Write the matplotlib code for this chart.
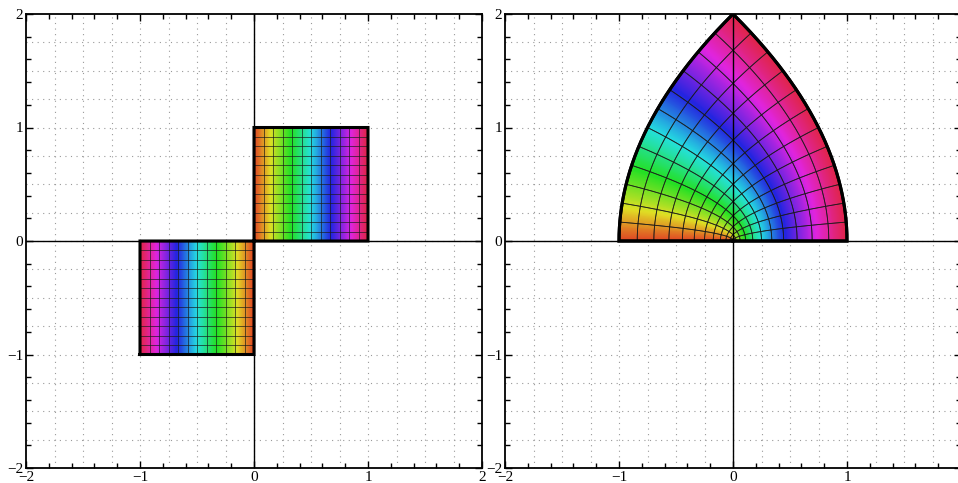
import numpy as np
import matplotlib
matplotlib.use('Agg')
import matplotlib.pyplot as plt
from matplotlib.colors import hsv_to_rgb, ListedColormap
from matplotlib.ticker import MultipleLocator

# ---------------- дані ----------------
# квадрати в площині z: (x0, x1, y0, y1)
squares = [(0.0, 1.0, 0.0, 1.0), (-1.0, 0.0, -1.0, 0.0)]
mesh_count = 12             # кількість клітинок сітки по кожній стороні
hue_range = (0.03, 0.97)    # відтінок для |x| = 0 ... 1
sat, val = 0.84, 0.88
major_ticks = [-2, -1, 0, 1, 2]
axis_range = (-2, 2)


def mapping(z):
    # w = z^2
    return z ** 2


hues = np.linspace(hue_range[0], hue_range[1], 256)
hsv = np.stack([hues, np.full_like(hues, sat), np.full_like(hues, val)], axis=-1)
cmap = ListedColormap(hsv_to_rgb(hsv))

plt.rcParams['font.family'] = ['Liberation Serif', 'DejaVu Serif']

fig = plt.figure(figsize=(9.58, 4.83), dpi=100)
W, H = 958.0, 483.0
ax_l = fig.add_axes([26 / W, 15 / H, 456 / W, 454 / H])
ax_r = fig.add_axes([505 / W, 15 / H, 456 / W, 454 / H])


def setup_axes(ax):
    ax.set_xlim(*axis_range)
    ax.set_ylim(*axis_range)
    ax.set_xticks(major_ticks)
    ax.set_yticks(major_ticks)
    ax.set_xticklabels([str(t).replace('-', '\u2212') for t in major_ticks])
    ax.set_yticklabels([str(t).replace('-', '\u2212') for t in major_ticks])
    ax.xaxis.set_minor_locator(MultipleLocator(0.2))
    ax.yaxis.set_minor_locator(MultipleLocator(0.2))
    ax.tick_params(which='both', direction='in', top=True, right=True,
                   labelsize=11, pad=2, width=1.0, color='black')
    ax.tick_params(which='major', length=5)
    ax.tick_params(which='minor', length=3.5)
    # пунктирна сітка з кроком 0.25
    g = np.arange(axis_range[0] + 0.25, axis_range[1], 0.25)
    for v in g:
        ax.axvline(v, color='#9a9a9a', lw=0.8, ls=(0, (1, 4)), zorder=0)
        ax.axhline(v, color='#9a9a9a', lw=0.8, ls=(0, (1, 4)), zorder=0)
    ax.axhline(0, color='black', lw=1.0, zorder=4)
    ax.axvline(0, color='black', lw=1.0, zorder=4)
    for s in ax.spines.values():
        s.set_linewidth(1.3)


def draw_square(ax, sq, func):
    x0, x1, y0, y1 = sq
    xs = np.linspace(x0, x1, 241)
    ys = np.linspace(y0, y1, 241)
    X, Y = np.meshgrid(xs, ys)
    Wz = func(X + 1j * Y)
    ax.pcolormesh(Wz.real, Wz.imag, np.abs(X), cmap=cmap, vmin=0, vmax=1,
                  shading='gouraud', zorder=2, rasterized=True)
    s = np.linspace(0, 1, 300)
    # лінії сітки
    for t in np.linspace(0, 1, mesh_count + 1)[1:-1]:
        xv = x0 + t * (x1 - x0)
        yv = y0 + t * (y1 - y0)
        w1 = func(xv + 1j * (y0 + s * (y1 - y0)))
        w2 = func((x0 + s * (x1 - x0)) + 1j * yv)
        ax.plot(w1.real, w1.imag, color='#1a1a1a', lw=0.6, alpha=0.8, zorder=3)
        ax.plot(w2.real, w2.imag, color='#1a1a1a', lw=0.6, alpha=0.8, zorder=3)
    # межа
    edges = [
        (x0 + s * (x1 - x0)) + 1j * y0,
        x1 + 1j * (y0 + s * (y1 - y0)),
        (x1 - s * (x1 - x0)) + 1j * y1,
        x0 + 1j * (y1 - s * (y1 - y0)),
    ]
    b = func(np.concatenate(edges))
    ax.plot(b.real, b.imag, color='black', lw=2.2, zorder=5,
            solid_joinstyle='miter')


identity = lambda z: z

setup_axes(ax_l)
setup_axes(ax_r)
for sq in squares:
    draw_square(ax_l, sq, identity)
    draw_square(ax_r, sq, mapping)

fig.savefig('out.png', dpi=100)
